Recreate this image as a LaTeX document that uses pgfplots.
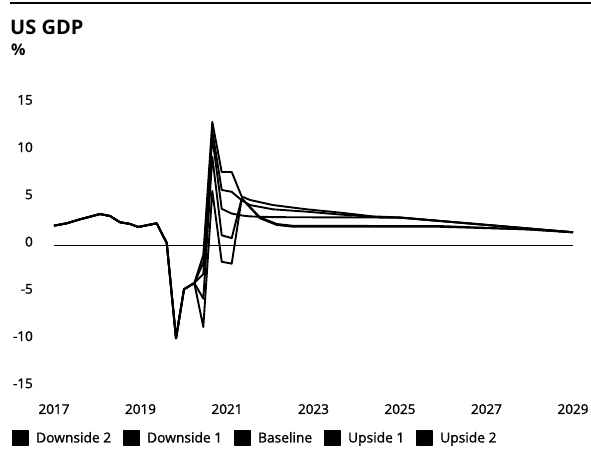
\documentclass[border=0pt]{standalone}
\usepackage{fontspec}
\setmainfont{Open Sans}
\newfontfamily\semib{Open Sans}[FakeBold=1.2]
\usepackage{pgfplots}
\pgfplotsset{compat=1.18}
\begin{document}
\begin{tikzpicture}[x=1pt,y=1pt]
\useasboundingbox (0,0) rectangle (591,465);
\draw[line width=1.8pt] (10,462) -- (591,462);
\node[anchor=base west, inner sep=0, font=\fontsize{20}{24}\selectfont\bfseries] at (10,430) {US GDP};
\node[anchor=base west, inner sep=0, font=\fontsize{16}{19}\selectfont\bfseries] at (11,409) {\%};
\begin{axis}[
  at={(54pt,77.55pt)}, anchor=south west, scale only axis,
  width=519pt, height=283.5pt,
  xmin=2017, xmax=2029, ymin=-15, ymax=15,
  axis line style={draw=none}, tick style={draw=none}, major tick length=0pt,
  clip=false,
  xtick={2017,2019,2021,2023,2025,2027,2029},
  xticklabels={2017,2019,2021,2023,2025,2027,2029},
  ytick={-15,-10,-5,0,5,10,15},
  yticklabels={-15,-10,-5,0,5,10,15},
  /pgf/number format/assume math mode=true,
  ticklabel style={font=\semib\fontsize{13.5}{16}\selectfont},
  yticklabel style={anchor=east, inner sep=0pt, xshift=-21pt, yshift=4pt},
  xticklabel style={anchor=north, inner sep=0pt, yshift=-16.5pt},
  every axis plot/.append style={line join=round},
  legend columns=5,
  legend image code/.code={\fill[black] (0pt,-7.5pt) rectangle (15pt,7.5pt);},
  legend style={at={(-0.0809,-0.1783)}, anchor=west, draw=none, fill=none,
    inner sep=0pt, font=\semib\fontsize{13.8}{16}\selectfont,
    /tikz/every even column/.append style={column sep=9pt},
    nodes={inner sep=3pt}},
]
\addplot[black, line width=1.3pt, forget plot] coordinates {(2017,0) (2029,0)};
% Downside 2
\addplot[black, line width=1.9pt] coordinates {
(2017.000,2.12) (2017.294,2.37) (2017.601,2.79) (2018.064,3.35) (2018.295,3.14)
(2018.526,2.48) (2018.757,2.30) (2018.949,1.98) (2019.375,2.37) (2019.606,0.29)
(2019.821,-9.8) (2020.006,-4.61) (2020.244,-3.95)
(2020.452,-8.6) (2020.660,5.8) (2020.878,-1.7) (2021.109,-1.9) (2021.340,5.0)
(2021.763,2.9) (2022.149,2.2) (2022.533,2.0) (2025.925,2.0) (2027.936,1.73) (2029.000,1.42)};
\addlegendentry{\hspace{4pt}Downside 2}
% Downside 1
\addplot[black, line width=1.9pt] coordinates {
(2017.000,2.12) (2017.294,2.37) (2017.601,2.79) (2018.064,3.35) (2018.295,3.14)
(2018.526,2.48) (2018.757,2.30) (2018.949,1.98) (2019.375,2.37) (2019.606,0.29)
(2019.821,-9.8) (2020.006,-4.61) (2020.244,-3.95)
(2020.452,-5.6) (2020.660,9.4) (2020.878,1.1) (2021.109,0.8) (2021.340,5.0)
(2021.763,3.0) (2022.149,2.3) (2022.533,2.1) (2025.925,2.08) (2027.936,1.73) (2029.000,1.42)};
\addlegendentry{\hspace{4pt}Downside 1}
% Baseline
\addplot[black, line width=1.9pt] coordinates {
(2017.000,2.12) (2017.294,2.37) (2017.601,2.79) (2018.064,3.35) (2018.295,3.14)
(2018.526,2.48) (2018.757,2.30) (2018.949,1.98) (2019.375,2.37) (2019.606,0.29)
(2019.821,-9.8) (2020.006,-4.61) (2020.244,-3.95)
(2020.452,-3.0) (2020.660,11.5) (2020.878,3.9) (2021.109,3.4) (2021.340,3.2)
(2021.532,3.1) (2022.100,3.02) (2025.000,2.97) (2029.000,1.42)};
\addlegendentry{\hspace{4pt}Baseline}
% Upside 1
\addplot[black, line width=1.9pt] coordinates {
(2017.000,2.12) (2017.294,2.37) (2017.601,2.79) (2018.064,3.35) (2018.295,3.14)
(2018.526,2.48) (2018.757,2.30) (2018.949,1.98) (2019.375,2.37) (2019.606,0.29)
(2019.821,-9.8) (2020.006,-4.61) (2020.244,-3.95)
(2020.452,-1.8) (2020.660,12.2) (2020.878,5.9) (2021.109,5.7) (2021.340,4.8)
(2021.532,4.3) (2022.064,3.85) (2022.843,3.6) (2023.613,3.3) (2024.376,3.05)
(2025.000,2.97) (2029.000,1.42)};
\addlegendentry{\hspace{4pt}Upside 1}
% Upside 2
\addplot[black, line width=1.9pt] coordinates {
(2017.000,2.12) (2017.294,2.37) (2017.601,2.79) (2018.064,3.35) (2018.295,3.14)
(2018.526,2.48) (2018.757,2.30) (2018.949,1.98) (2019.375,2.37) (2019.606,0.29)
(2019.821,-9.8) (2020.006,-4.61) (2020.244,-3.95)
(2020.452,-1.0) (2020.660,13.1) (2020.878,7.8) (2021.109,7.8) (2021.340,5.2)
(2021.532,4.84) (2022.064,4.3) (2022.843,3.85) (2023.613,3.5) (2024.376,3.1)
(2025.000,2.99) (2029.000,1.42)};
\addlegendentry{\hspace{4pt}Upside 2}
\end{axis}
\end{tikzpicture}
\end{document}
